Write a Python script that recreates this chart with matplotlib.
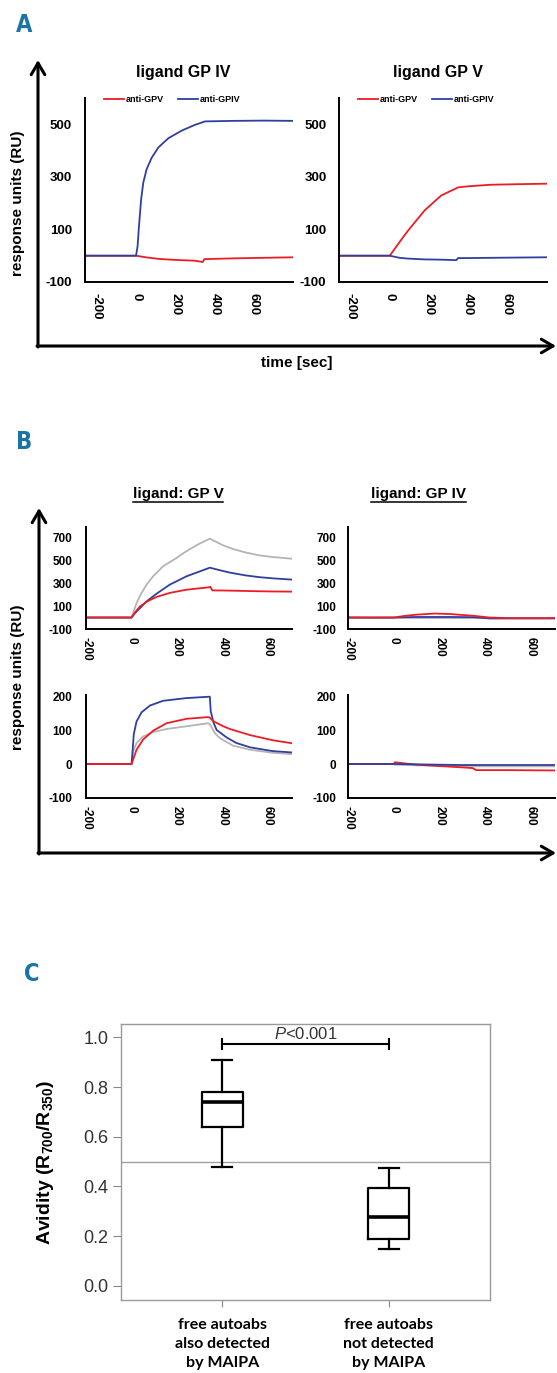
import matplotlib.pyplot as plt
from matplotlib.lines import Line2D

plt.rcParams['font.family'] = ['Liberation Sans', 'DejaVu Sans']
plt.rcParams['font.weight'] = 'bold'
plt.rcParams['axes.unicode_minus'] = False
plt.rcParams['mathtext.fontset'] = 'custom'
plt.rcParams['mathtext.rm'] = 'Liberation Sans:weight=normal'
plt.rcParams['mathtext.bf'] = 'Liberation Sans:weight=bold'
plt.rcParams['mathtext.it'] = 'Liberation Sans:style=italic:weight=normal'

RED = '#ed1c24'
BLUE = '#2f3f9f'
GREY = '#b4b4b4'
TEAL = '#1b75a3'

#Panel A - sensorgrams, time in sec, response in RU
#ligand GP IV
a4_blue_t = [-260, 0, 8, 15, 26, 37, 54, 80, 114, 165, 233, 301, 352, 500, 650, 800]
a4_blue = [0, 0, 36, 112, 214, 278, 329, 373, 412, 447, 476, 498, 511, 513, 514, 513]
a4_red_t = [-260, 0, 50, 114, 200, 300, 340, 348, 400, 500, 650, 800]
a4_red = [0, 0, -6, -12, -16, -19, -24, -13, -12, -10, -8, -6]
#ligand GP V
a5_red_t = [-260, 0, 50, 94, 178, 263, 350, 400, 517, 650, 805]
a5_red = [0, 0, 52, 96, 172, 229, 260, 264, 270, 272, 274]
a5_blue_t = [-260, 0, 50, 94, 178, 263, 340, 350, 400, 517, 650, 805]
a5_blue = [0, 0, -8, -11, -14, -15, -17, -9, -9, -8, -7, -6]

#Panel B - three patient sera per plot (grey, blue, red)
tl_grey_t = [-200, 0, 7, 22, 37, 66, 95, 139, 198, 242, 293, 344, 400, 446, 500, 563, 620, 705]
tl_grey = [0, 0, 38, 126, 190, 287, 360, 448, 520, 580, 639, 688, 632, 598, 568, 542, 528, 513]
tl_blue_t = [-200, 0, 15, 37, 66, 110, 168, 242, 344, 388, 432, 500, 563, 620, 705]
tl_blue = [0, 0, 38, 82, 141, 208, 287, 360, 435, 413, 392, 368, 352, 342, 331]
tl_red_t = [-200, 0, 15, 37, 73, 110, 168, 242, 341, 346, 355, 400, 500, 600, 705]
tl_red = [0, 0, 44, 97, 145, 180, 215, 243, 264, 268, 237, 236, 232, 228, 226]

bl_grey_t = [-200, 0, 7, 22, 51, 95, 154, 242, 337, 345, 366, 388, 446, 521, 620, 705]
bl_grey = [0, 0, 37, 62, 81, 94, 103, 111, 120, 116, 91, 76, 54, 42, 33, 29]
bl_blue_t = [-200, 0, 4, 10, 22, 44, 81, 139, 242, 344, 348, 360, 374, 418, 460, 521, 620, 705]
bl_blue = [0, 0, 33, 88, 125, 152, 172, 186, 194, 198, 155, 122, 100, 78, 62, 49, 38, 34]
bl_red_t = [-200, 0, 7, 22, 51, 95, 154, 242, 337, 345, 359, 400, 432, 521, 620, 705]
bl_red = [0, 0, 13, 42, 72, 98, 120, 133, 138, 136, 126, 112, 103, 85, 70, 61]

tr_t = [-200, -100, 0, 50, 100, 180, 250, 350, 420, 500, 600, 705]
tr_grey = [0, -3, -2, -3, -5, -5, -5, -5, -5, -5, -5, -5]
tr_blue = [0, 0, 0, 3, 5, 5, 5, 3, -8, -8, -8, -8]
tr_red = [0, 0, 0, 15, 25, 35, 30, 15, 0, -5, -5, -5]

br_t = [-200, 0, 5, 100, 200, 300, 345, 360, 500, 705]
br_grey = [0, 0, -2, -4, -5, -6, -7, -7, -7, -7]
br_blue = [0, 0, 0, -1, -2, -3, -3, -3, -3, -3]
br_red = [0, 0, 5, -2, -6, -10, -12, -18, -18, -19]

#Panel C - avidity box plots (summary stats)
group_labels = ['free autoabs\nalso detected\nby MAIPA', 'free autoabs\nnot detected\nby MAIPA']
box_q1 = [0.64, 0.19]
box_med = [0.74, 0.278]
box_q3 = [0.781, 0.395]
box_lo = [0.479, 0.148]
box_hi = [0.909, 0.475]
p_text = '$P$<0.001'

W, H = 557, 1373
fig = plt.figure(figsize=(W / 100, H / 100), dpi=100)


def rect(x0, y0, x1, y1):
    return [x0 / W, 1 - y1 / H, (x1 - x0) / W, (y1 - y0) / H]


def sensor_axes(r, xlim, ylim, yticks, fs, ypad, xpad):
    ax = fig.add_axes(r)
    ax.set_xlim(xlim)
    ax.set_ylim(ylim)
    ax.set_xticks([-200, 0, 200, 400, 600])
    ax.set_yticks(yticks)
    ax.spines['top'].set_visible(False)
    ax.spines['right'].set_visible(False)
    ax.spines['left'].set_linewidth(1.4)
    ax.spines['bottom'].set_linewidth(1.4)
    ax.tick_params(axis='y', length=0, labelsize=fs, pad=ypad)
    ax.tick_params(axis='x', length=0, labelsize=fs, pad=xpad, labelrotation=-90)
    return ax


#Panel A
axA1 = sensor_axes(rect(85, 98, 293, 282), (-260, 800), (-100, 600), [-100, 100, 300, 500], 9.5, 9.5, 8)
axA1.plot(a4_red_t, a4_red, color=RED, lw=1.3, label='anti-GPV')
axA1.plot(a4_blue_t, a4_blue, color=BLUE, lw=1.3, label='anti-GPIV')

axA2 = sensor_axes(rect(339, 98, 547, 282), (-260, 805), (-100, 600), [-100, 100, 300, 500], 9.5, 9, 8)
axA2.plot(a5_red_t, a5_red, color=RED, lw=1.3, label='anti-GPV')
axA2.plot(a5_blue_t, a5_blue, color=BLUE, lw=1.3, label='anti-GPIV')

for ax in [axA1, axA2]:
    ax.legend(loc='center', bbox_to_anchor=(0.42, 0.99), ncol=2, frameon=False,
              fontsize=6.5, handlelength=2.2, handletextpad=0.2, columnspacing=1.6)

fig.text(183 / W, 1 - 73 / H, 'ligand GP IV', ha='center', va='center', fontsize=11.5)
fig.text(438 / W, 1 - 73 / H, 'ligand GP V', ha='center', va='center', fontsize=11.5)
fig.text(18 / W, 1 - 203 / H, 'response units (RU)', rotation=90, ha='center', va='center', fontsize=11)
fig.text(297 / W, 1 - 363 / H, 'time [sec]', ha='center', va='center', fontsize=11)

#Panel B
b_ticks_top = [-100, 100, 300, 500, 700]
b_ticks_bot = [-100, 0, 100, 200]
axB1 = sensor_axes(rect(86, 527, 292, 629), (-200, 705), (-100, 790), b_ticks_top, 8.5, 10, 6)
axB2 = sensor_axes(rect(348, 527, 555, 629), (-200, 705), (-100, 790), b_ticks_top, 8.5, 8.5, 6)
axB3 = sensor_axes(rect(86, 695, 292, 798), (-200, 705), (-100, 203), b_ticks_bot, 8.5, 10, 6)
axB4 = sensor_axes(rect(348, 695, 555, 798), (-200, 705), (-100, 203), b_ticks_bot, 8.5, 8.5, 6)

axB1.plot(tl_grey_t, tl_grey, color=GREY, lw=1.3)
axB1.plot(tl_blue_t, tl_blue, color=BLUE, lw=1.3)
axB1.plot(tl_red_t, tl_red, color=RED, lw=1.3)

axB2.plot(tr_t, tr_grey, color=GREY, lw=1.3)
axB2.plot(tr_t, tr_blue, color=BLUE, lw=1.3)
axB2.plot(tr_t, tr_red, color=RED, lw=1.3)

axB3.plot(bl_grey_t, bl_grey, color=GREY, lw=1.3)
axB3.plot(bl_blue_t, bl_blue, color=BLUE, lw=1.3)
axB3.plot(bl_red_t, bl_red, color=RED, lw=1.3)

axB4.plot(br_t, br_grey, color=GREY, lw=1.3)
axB4.plot(br_t, br_red, color=RED, lw=1.3)
axB4.plot(br_t, br_blue, color=BLUE, lw=1.3)

titleB1 = fig.text(178 / W, 1 - 494 / H, 'ligand: GP V', ha='center', va='center', fontsize=11)
titleB2 = fig.text(418 / W, 1 - 494 / H, 'ligand: GP IV', ha='center', va='center', fontsize=11)
fig.text(18 / W, 1 - 677 / H, 'response units (RU)', rotation=90, ha='center', va='center', fontsize=11)

#Panel C
axC = fig.add_axes(rect(121, 1024, 490, 1300))
stats = []
for i in range(2):
    stats.append(dict(q1=box_q1[i], med=box_med[i], q3=box_q3[i],
                      whislo=box_lo[i], whishi=box_hi[i], label=group_labels[i]))
axC.bxp(stats, positions=[1, 2], widths=0.25, capwidths=0.12, showfliers=False,
        boxprops=dict(color='black', lw=1.6),
        whiskerprops=dict(color='black', lw=1.6),
        capprops=dict(color='black', lw=1.6),
        medianprops=dict(color='black', lw=2.6))
axC.axhline(0.5, color='#a0a0a0', lw=1, zorder=0)
axC.set_xlim(0.39, 2.61)
axC.set_ylim(-0.057, 1.054)
axC.set_yticks([0.0, 0.2, 0.4, 0.6, 0.8, 1.0])
axC.set_yticklabels(['%.1f' % v for v in [0.0, 0.2, 0.4, 0.6, 0.8, 1.0]])
for s in axC.spines.values():
    s.set_color('#9a9a9a')
    s.set_linewidth(1)
axC.tick_params(axis='y', length=6, color='#888888', labelsize=13, labelcolor='#333333', pad=3)
axC.tick_params(axis='x', length=5, color='#888888', pad=8)
for lbl in axC.get_yticklabels():
    lbl.set_fontweight('normal')
for lbl in axC.get_xticklabels():
    lbl.set_fontfamily('Lato')
    lbl.set_fontsize(11.5)
    lbl.set_linespacing(1.45)

#significance bar
axC.plot([1, 2], [0.973, 0.973], color='black', lw=1.5, marker='|', markersize=9, mew=1.5)
axC.text(1.5, 0.982, p_text, ha='center', va='bottom', fontsize=12, color='#333333', fontweight='normal')
fig.text(46 / W, 1 - 1163 / H, 'Avidity (R$_{\\mathbf{700}}$/R$_{\\mathbf{350}}$)', rotation=90,
         ha='center', va='center', fontsize=14)

#panel letters
for letter, x, y in [('A', 16, 32), ('B', 16, 449), ('C', 24, 981)]:
    fig.text(x / W, 1 - y / H, letter, ha='left', va='baseline', fontsize=17, color=TEAL,
             family='DejaVu Sans', fontstretch='condensed', fontweight='bold')

#big axis arrows drawn over the whole figure in pixel units
ov = fig.add_axes([0, 0, 1, 1])
ov.set_xlim(0, W)
ov.set_ylim(H, 0)
ov.axis('off')
arrow = dict(arrowstyle='->,head_length=0.6,head_width=0.35', lw=2.2, color='black',
             shrinkA=0, shrinkB=0, mutation_scale=14)
ov.annotate('', xy=(38, 60), xytext=(38, 347), arrowprops=arrow)
ov.annotate('', xy=(556, 346), xytext=(37, 346), arrowprops=arrow)
ov.annotate('', xy=(39, 508), xytext=(39, 854), arrowprops=arrow)
ov.annotate('', xy=(556, 853), xytext=(38, 853), arrowprops=arrow)

#underline the panel B titles
fig.canvas.draw()
renderer = fig.canvas.get_renderer()
for t in [titleB1, titleB2]:
    bb = t.get_window_extent(renderer)
    y = bb.y0 - 1
    p0 = fig.transFigure.inverted().transform((bb.x0, y))
    p1 = fig.transFigure.inverted().transform((bb.x1, y))
    fig.add_artist(Line2D([p0[0], p1[0]], [p0[1], p1[1]], color='black', lw=1.1))

fig.savefig('out.png', dpi=100)
